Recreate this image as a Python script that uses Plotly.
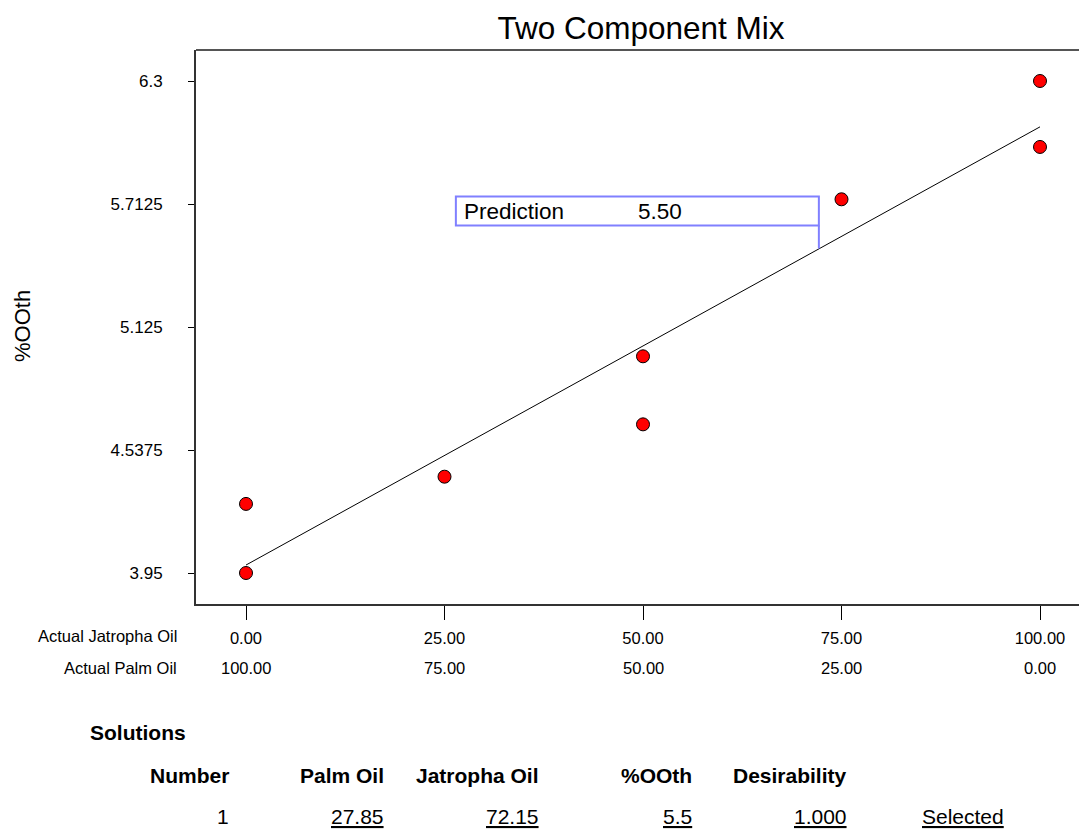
import plotly.graph_objects as go

# ---------------- data ----------------
jatropha = [0, 0, 25, 50, 50, 75, 100, 100]
ooth = [3.95, 4.28, 4.41, 4.66, 4.985, 5.735, 6.30, 5.985]

fit_x = [0, 100]
fit_y = [3.988, 6.081]

pred_x = 72.15
pred_y = 5.50
pred_label = "Prediction"
pred_text = "5.50"

x_ticks = [0, 25, 50, 75, 100]
jatropha_labels = ["0.00", "25.00", "50.00", "75.00", "100.00"]
palm_labels = ["100.00", "75.00", "50.00", "25.00", "0.00"]

y_ticks = [3.95, 4.5375, 5.125, 5.7125, 6.3]
y_labels = ["3.95", "4.5375", "5.125", "5.7125", "6.3"]

table_headers = ["Number", "Palm Oil", "Jatropha Oil", "%OOth", "Desirability"]
table_values = ["1", "27.85", "72.15", "5.5", "1.000"]
table_status = "Selected"

# ---------------- layout constants ----------------
W, H = 1079, 830
L, T, B = 196, 50, 604
PW, PH = W - L, B - T
FONT = "Liberation Sans, Arial, sans-serif"
TICK_SIZE = 16.5
TABLE_SIZE = 21


def px(xp):
    return (xp - L) / PW


def py(yp):
    return (B - yp) / PH


fig = go.Figure()

fig.add_trace(go.Scatter(
    x=fit_x, y=fit_y, mode="lines",
    line=dict(color="black", width=1), hoverinfo="skip", showlegend=False))

fig.add_trace(go.Scatter(
    x=jatropha, y=ooth, mode="markers",
    marker=dict(symbol="circle", size=13, color="#ff0000",
                line=dict(color="black", width=1)),
    showlegend=False))

# prediction flag anchored to the predicted point
flag_color = "#8080ff"
fig.add_shape(type="line", xref="x", yref="y",
              xsizemode="pixel", ysizemode="pixel",
              xanchor=pred_x, yanchor=pred_y,
              x0=0, x1=0, y0=0, y1=23,
              line=dict(color=flag_color, width=2))
fig.add_shape(type="rect", xref="x", yref="y",
              xsizemode="pixel", ysizemode="pixel",
              xanchor=pred_x, yanchor=pred_y,
              x0=-363, x1=0, y0=23, y1=52,
              line=dict(color=flag_color, width=2), fillcolor="rgba(0,0,0,0)")
fig.add_annotation(x=pred_x, y=pred_y, xref="x", yref="y",
                   text=pred_label, showarrow=False,
                   xanchor="left", yanchor="middle",
                   xshift=-357, yshift=37,
                   font=dict(family=FONT, size=22.5, color="black"))
fig.add_annotation(x=pred_x, y=pred_y, xref="x", yref="y",
                   text=pred_text, showarrow=False,
                   xanchor="left", yanchor="middle",
                   xshift=-183, yshift=37,
                   font=dict(family=FONT, size=22.5, color="black"))

# top frame line
fig.add_shape(type="line", xref="paper", yref="paper",
              x0=0, x1=1, y0=1, y1=1,
              line=dict(color="#555555", width=2))

# second row of x labels (Palm Oil) via the x scale
for xv, lab in zip(x_ticks, palm_labels):
    fig.add_annotation(x=xv, y=0, xref="x", yref="paper",
                       text=lab, showarrow=False,
                       xanchor="center", yanchor="middle", yshift=-64,
                       font=dict(family=FONT, size=TICK_SIZE, color="black"))

# row headers
fig.add_annotation(x=px(179), y=py(636), xref="paper", yref="paper",
                   text="Actual Jatropha Oil", showarrow=False,
                   xanchor="right", yanchor="middle",
                   font=dict(family=FONT, size=TICK_SIZE, color="black"))
fig.add_annotation(x=px(179), y=py(668), xref="paper", yref="paper",
                   text="Actual Palm Oil", showarrow=False,
                   xanchor="right", yanchor="middle",
                   font=dict(family=FONT, size=TICK_SIZE, color="black"))

# y-axis title
fig.add_annotation(x=px(22), y=py(326), xref="paper", yref="paper",
                   text="%OOth", showarrow=False, textangle=-90,
                   xanchor="center", yanchor="middle",
                   font=dict(family=FONT, size=22, color="black"))

# solutions table
fig.add_annotation(x=px(88), y=py(732), xref="paper", yref="paper",
                   text="<b>Solutions</b>", showarrow=False,
                   xanchor="left", yanchor="middle",
                   font=dict(family=FONT, size=TABLE_SIZE, color="black"))
header_right = [231, 386, 541, 694, 849]
for xr, hd, val in zip(header_right, table_headers, table_values):
    fig.add_annotation(x=px(xr), y=py(775), xref="paper", yref="paper",
                       text="<b>" + hd + "</b>", showarrow=False,
                       xanchor="right", yanchor="middle",
                       font=dict(family=FONT, size=TABLE_SIZE, color="black"))
    txt = val if hd == "Number" else "<u>" + val + "</u>"
    fig.add_annotation(x=px(xr), y=py(816), xref="paper", yref="paper",
                       text=txt, showarrow=False,
                       xanchor="right", yanchor="middle",
                       font=dict(family=FONT, size=TABLE_SIZE, color="black"))
fig.add_annotation(x=px(920), y=py(816), xref="paper", yref="paper",
                   text="<u>" + table_status + "</u>", showarrow=False,
                   xanchor="left", yanchor="middle",
                   font=dict(family=FONT, size=TABLE_SIZE, color="black"))

x_px_per_unit = (1040 - 246) / 100
y_px_per_unit = (573 - 81) / (6.3 - 3.95)
x_range = [(L - 246) / x_px_per_unit, (W - 246) / x_px_per_unit]
y_range = [3.95 - (B - 573) / y_px_per_unit, 6.3 + (81 - T) / y_px_per_unit]

fig.update_layout(
    width=W, height=H,
    margin=dict(l=L, r=0, t=T, b=H - B, autoexpand=False),
    paper_bgcolor="white", plot_bgcolor="white",
    title=dict(text="Two Component Mix", x=px(641), xref="paper",
               xanchor="center", y=1 - 28 / H, yref="container",
               yanchor="middle",
               font=dict(family=FONT, size=31.5, color="black")),
    xaxis=dict(range=x_range, tickvals=x_ticks, ticktext=jatropha_labels,
               ticks="outside", ticklen=14, tickwidth=1, tickcolor="black",
               showline=True, linecolor="#333333", linewidth=2,
               showgrid=False, zeroline=False, fixedrange=True,
               ticklabelstandoff=4,
               tickfont=dict(family=FONT, size=TICK_SIZE, color="black")),
    yaxis=dict(range=y_range, tickvals=y_ticks, ticktext=y_labels,
               ticks="outside", ticklen=6, tickwidth=1, tickcolor="black",
               showline=True, linecolor="#333333", linewidth=2,
               showgrid=False, zeroline=False, fixedrange=True,
               ticklabelstandoff=22,
               tickfont=dict(family=FONT, size=17, color="black")),
    showlegend=False,
)

fig.write_html("out.html",
               config={"displayModeBar": False},
               post_script="document.body.style.margin='0';"
                           "document.body.style.overflow='hidden';")
